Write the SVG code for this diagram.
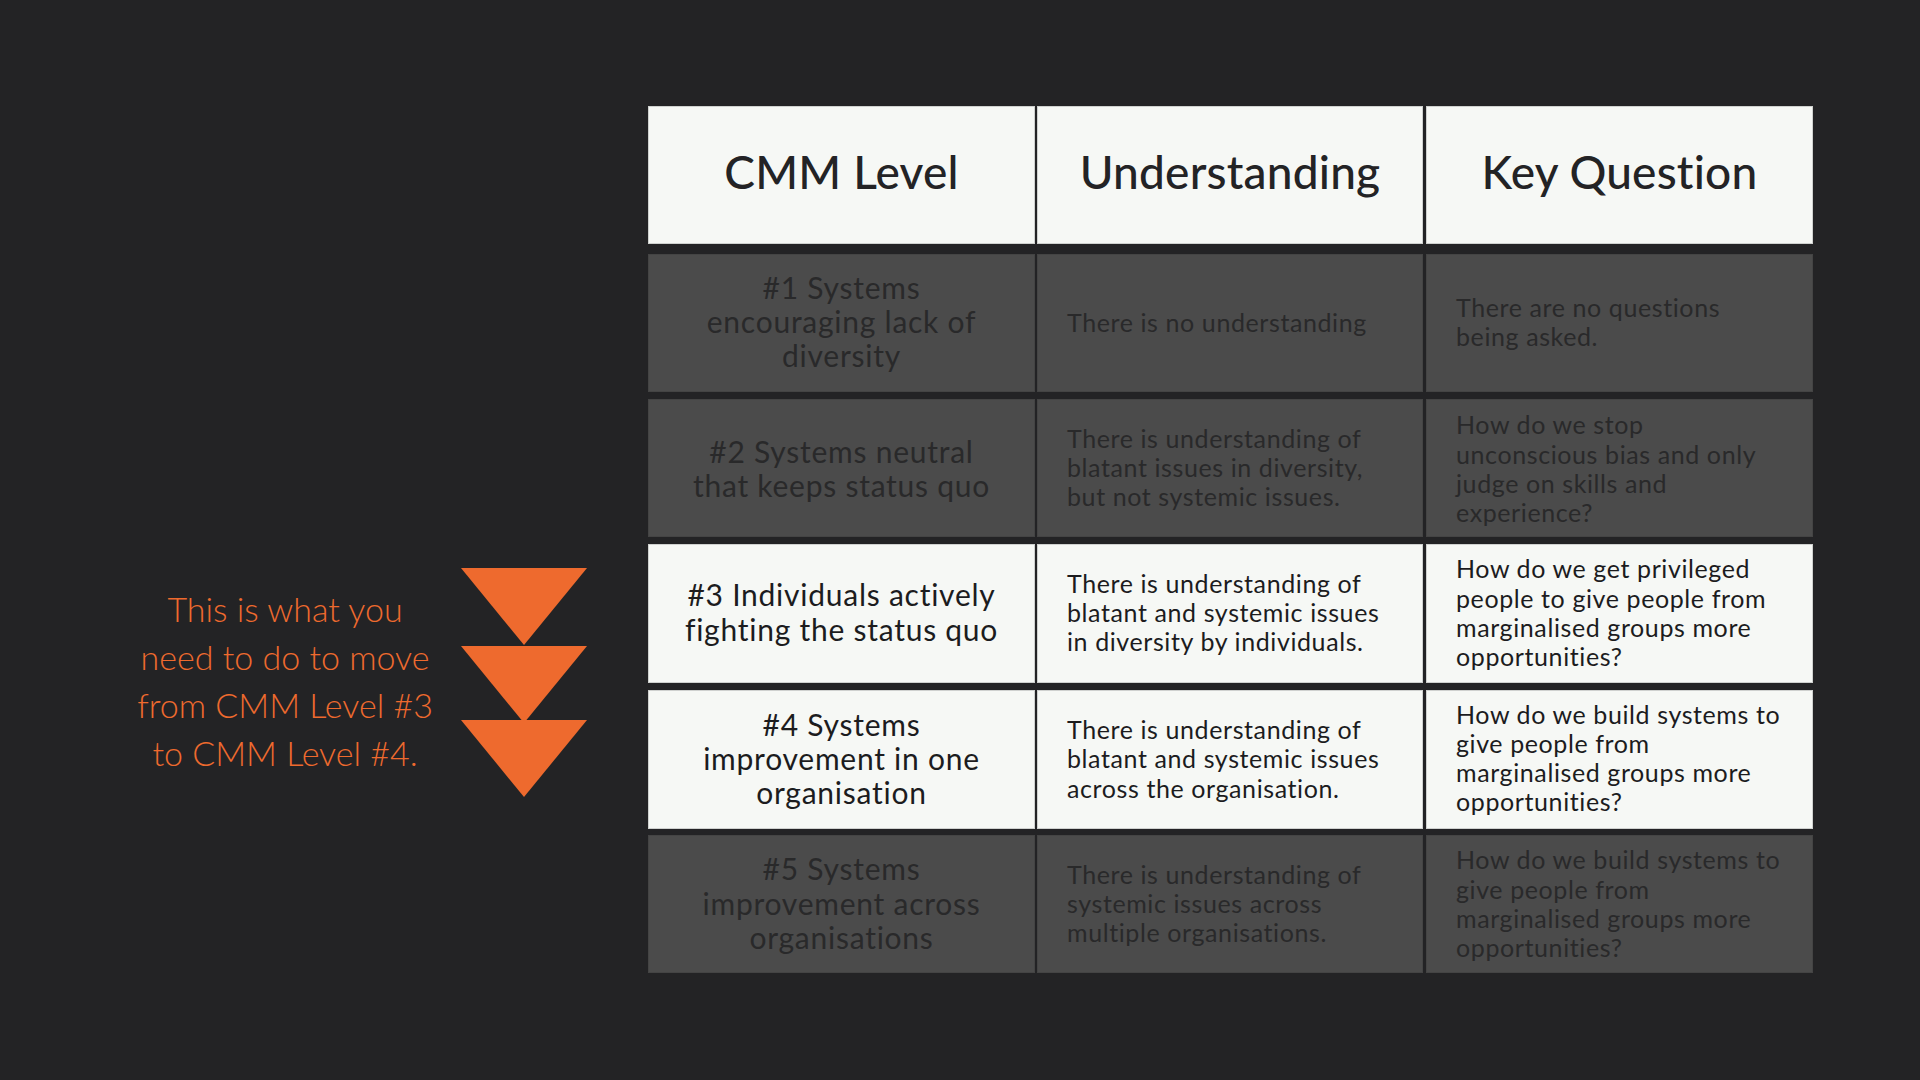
<svg xmlns="http://www.w3.org/2000/svg" width="1920" height="1080" viewBox="0 0 1920 1080">
<style>
.bg{fill:#232325}
.w{fill:#f6f8f5;stroke:#cfd1cf;stroke-width:1}
.g{fill:#4b4b4b;stroke:#444;stroke-width:1}
text{font-family:Lato,"Noto Sans",sans-serif}
.h{font-size:46px;fill:#232325;text-anchor:middle;font-weight:500;letter-spacing:0.2px}
.c1{font-size:30px;text-anchor:middle;letter-spacing:0.75px}
.b{font-size:25px;letter-spacing:0.6px}
.dk{fill:#29292a}
.lt{fill:#1c1c1e}
.or{fill:#ee6a2e}
.note{font-size:34px;font-weight:300;text-anchor:middle;fill:#ee6a2e}
</style>
<rect class="bg" x="0" y="0" width="1920" height="1080"/>

<g id="header">
  <g id="h-cmm"><rect class="w" x="648.5" y="106.5" width="386" height="137"/><text class="h" x="841.5" y="189">CMM Level</text></g>
  <g id="h-und"><rect class="w" x="1037.5" y="106.5" width="385" height="137"/><text class="h" x="1230" y="189">Understanding</text></g>
  <g id="h-key"><rect class="w" x="1426.5" y="106.5" width="386" height="137"/><text class="h" x="1619.5" y="189">Key Question</text></g>
</g>

<g id="row1">
  <g id="r1-level"><rect class="g" x="648.5" y="254.5" width="386" height="137"/>
    <text class="c1 dk"><tspan x="841.5" y="299">#1 Systems</tspan><tspan x="841.5" y="333">encouraging lack of</tspan><tspan x="841.5" y="367">diversity</tspan></text></g>
  <g id="r1-und"><rect class="g" x="1037.5" y="254.5" width="385" height="137"/>
    <text class="b dk" x="1067" y="332">There is no understanding</text></g>
  <g id="r1-key"><rect class="g" x="1426.5" y="254.5" width="386" height="137"/>
    <text class="b dk"><tspan x="1456" y="317">There are no questions</tspan><tspan x="1456" y="346">being asked.</tspan></text></g>
</g>

<g id="row2">
  <g id="r2-level"><rect class="g" x="648.5" y="399.5" width="386" height="137"/>
    <text class="c1 dk"><tspan x="841.5" y="463">#2 Systems neutral</tspan><tspan x="841.5" y="497">that keeps status quo</tspan></text></g>
  <g id="r2-und"><rect class="g" x="1037.5" y="399.5" width="385" height="137"/>
    <text class="b dk"><tspan x="1067" y="448">There is understanding of</tspan><tspan x="1067" y="477">blatant issues in diversity,</tspan><tspan x="1067" y="506">but not systemic issues.</tspan></text></g>
  <g id="r2-key"><rect class="g" x="1426.5" y="399.5" width="386" height="137"/>
    <text class="b dk"><tspan x="1456" y="434">How do we stop</tspan><tspan x="1456" y="463.5">unconscious bias and only</tspan><tspan x="1456" y="492.5">judge on skills and</tspan><tspan x="1456" y="522">experience?</tspan></text></g>
</g>

<g id="row3">
  <g id="r3-level"><rect class="w" x="648.5" y="544.5" width="386" height="138"/>
    <text class="c1 lt"><tspan x="841.5" y="606">#3 Individuals actively</tspan><tspan x="841.5" y="641">fighting the status quo</tspan></text></g>
  <g id="r3-und"><rect class="w" x="1037.5" y="544.5" width="385" height="138"/>
    <text class="b lt"><tspan x="1067" y="593">There is understanding of</tspan><tspan x="1067" y="622">blatant and systemic issues</tspan><tspan x="1067" y="651">in diversity by individuals.</tspan></text></g>
  <g id="r3-key"><rect class="w" x="1426.5" y="544.5" width="386" height="138"/>
    <text class="b lt"><tspan x="1456" y="578">How do we get privileged</tspan><tspan x="1456" y="607.5">people to give people from</tspan><tspan x="1456" y="636.5">marginalised groups more</tspan><tspan x="1456" y="666">opportunities?</tspan></text></g>
</g>

<g id="row4">
  <g id="r4-level"><rect class="w" x="648.5" y="690.5" width="386" height="138"/>
    <text class="c1 lt"><tspan x="841.5" y="736">#4 Systems</tspan><tspan x="841.5" y="770">improvement in one</tspan><tspan x="841.5" y="804">organisation</tspan></text></g>
  <g id="r4-und"><rect class="w" x="1037.5" y="690.5" width="385" height="138"/>
    <text class="b lt"><tspan x="1067" y="739">There is understanding of</tspan><tspan x="1067" y="768">blatant and systemic issues</tspan><tspan x="1067" y="797.5">across the organisation.</tspan></text></g>
  <g id="r4-key"><rect class="w" x="1426.5" y="690.5" width="386" height="138"/>
    <text class="b lt"><tspan x="1456" y="724">How do we build systems to</tspan><tspan x="1456" y="753">give people from</tspan><tspan x="1456" y="782">marginalised groups more</tspan><tspan x="1456" y="810.5">opportunities?</tspan></text></g>
</g>

<g id="row5">
  <g id="r5-level"><rect class="g" x="648.5" y="835.5" width="386" height="137"/>
    <text class="c1 dk"><tspan x="841.5" y="880">#5 Systems</tspan><tspan x="841.5" y="915">improvement across</tspan><tspan x="841.5" y="949">organisations</tspan></text></g>
  <g id="r5-und"><rect class="g" x="1037.5" y="835.5" width="385" height="137"/>
    <text class="b dk"><tspan x="1067" y="884">There is understanding of</tspan><tspan x="1067" y="913">systemic issues across</tspan><tspan x="1067" y="942">multiple organisations.</tspan></text></g>
  <g id="r5-key"><rect class="g" x="1426.5" y="835.5" width="386" height="137"/>
    <text class="b dk"><tspan x="1456" y="869">How do we build systems to</tspan><tspan x="1456" y="898.5">give people from</tspan><tspan x="1456" y="927.5">marginalised groups more</tspan><tspan x="1456" y="956.5">opportunities?</tspan></text></g>
</g>

<g id="arrows">
  <polygon class="or" points="461,568 587,568 524,645"/>
  <polygon class="or" points="461,646 587,646 524,723"/>
  <polygon class="or" points="461,720 587,720 524,797"/>
</g>

<g id="note">
  <text class="note"><tspan x="285" y="621.5">This is what you</tspan><tspan x="285" y="670">need to do to move</tspan><tspan x="285" y="718">from CMM Level #3</tspan><tspan x="285" y="766">to CMM Level #4.</tspan></text>
</g>
</svg>
